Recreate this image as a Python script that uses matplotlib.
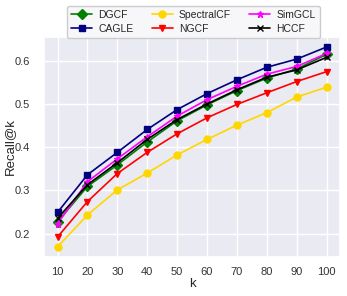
import matplotlib
matplotlib.use('Agg')
import matplotlib.pyplot as plt
import seaborn as sns

K = [10, 20, 30, 40, 50, 60, 70, 80, 90, 100]

DGCF = [0.227, 0.309, 0.359, 0.412, 0.461, 0.498, 0.531, 0.560, 0.581, 0.615]
CAGLE = [0.249, 0.336, 0.388, 0.441, 0.487, 0.524, 0.556, 0.585, 0.604, 0.632]
SPECTRALCF = [0.169, 0.243, 0.301, 0.340, 0.382, 0.418, 0.451, 0.480, 0.516, 0.539]
NGCF = [0.192, 0.274, 0.339, 0.388, 0.431, 0.468, 0.499, 0.526, 0.552, 0.575]
SIMGCL = [0.223, 0.320, 0.373, 0.424, 0.472, 0.510, 0.541, 0.569, 0.587, 0.617]
HCCF = [0.235, 0.313, 0.364, 0.418, 0.464, 0.500, 0.533, 0.562, 0.579, 0.608]

sns.set_theme(style='darkgrid')
plt.rcParams['font.family'] = ['Liberation Sans', 'DejaVu Sans']

fig = plt.figure(figsize=(3.47, 2.96), dpi=100)
ax = fig.add_axes([0.127, 0.132, 0.853, 0.743])

ms = 5
lw = 1.2
ax.plot(K, DGCF, color='green', marker='D', markersize=ms, lw=lw, label='DGCF')
ax.plot(K, CAGLE, color='navy', marker='s', markersize=ms, lw=lw, label='CAGLE')
ax.plot(K, SPECTRALCF, color='gold', marker='o', markersize=ms, lw=lw, label='SpectralCF')
ax.plot(K, NGCF, color='red', marker='v', markersize=ms, lw=lw, label='NGCF')
ax.plot(K, SIMGCL, color='magenta', marker='*', markersize=ms, lw=lw, label='SimGCL')
ax.plot(K, HCCF, color='black', marker='x', markersize=ms, lw=lw, label='HCCF')

ax.set_xticks(K)
ax.set_yticks([0.2, 0.3, 0.4, 0.5, 0.6])
ax.tick_params(labelsize=8, labelcolor='#333333')
ax.tick_params(axis='x', pad=1.5)
ax.tick_params(axis='y', pad=4)
ax.set_xlabel('k', fontsize=9.5)
ax.set_ylabel('Recall@k', fontsize=9.5)
ax.yaxis.set_label_coords(-0.095, 0.5)
ax.xaxis.set_label_coords(0.5, -0.095)

leg = ax.legend(loc='upper center', bbox_to_anchor=(0.505, 1.165), ncol=3,
                fontsize=7.5, frameon=True, handlelength=2.0, handletextpad=0.6,
                columnspacing=1.75, borderpad=0.4, labelspacing=0.35)
leg.get_frame().set_facecolor('#f7f7f9')
leg.get_frame().set_alpha(1)

fig.savefig('out.png', dpi=100)
